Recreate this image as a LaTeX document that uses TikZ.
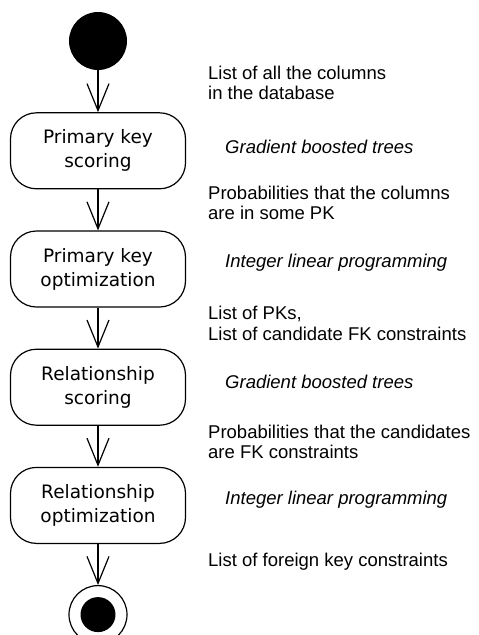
\documentclass[tikz,border=0pt]{standalone}
\usepackage{fontspec}
\setmainfont{Liberation Sans}
\newfontfamily\boxfont{DejaVu Sans}
\usetikzlibrary{arrows.meta, positioning}

\tikzset{
  flow/.style={-{Straight Barb[length=27pt, width=22pt, line width=1.2pt]}, line width=1.2pt},
  activity/.style={draw, line width=1.2pt, rounded corners=26pt,
    minimum width=175pt, minimum height=76pt, align=center,
    font=\boxfont\fontsize{18.5}{24}\selectfont},
  dataflow/.style={anchor=west, align=left, inner sep=0pt,
    font=\fontsize{18.5}{20.5}\selectfont},
  method/.style={anchor=west, inner sep=0pt,
    font=\itshape\fontsize{18.5}{20.5}\selectfont}
}

\begin{document}
\begin{tikzpicture}[x=1pt, y=1pt, node distance=41pt]
  \useasboundingbox (0,0) rectangle (479,-635);

  % Start and activity boxes
  \node[circle, fill=black, minimum size=58pt, inner sep=0pt]
    (start) at (98,-41) {};
  \node[activity, below=42pt of start] (pkscore) {Primary key\\scoring};
  \node[activity, below=of pkscore] (pkopt) {Primary key\\optimization};
  \node[activity, below=of pkopt] (relscore) {Relationship\\scoring};
  \node[activity, below=of relscore] (relopt) {Relationship\\optimization};

  % Final state
  \node[circle, draw, line width=1.2pt, minimum size=58pt, inner sep=0pt,
        below=of relopt] (stop) {};
  \node[circle, fill=black, minimum size=35pt, inner sep=0pt] (stopdot) at (stop) {};

  % Control flow
  \draw[flow] (start) -- (pkscore);
  \draw[flow] (pkscore) -- (pkopt);
  \draw[flow] (pkopt) -- (relscore);
  \draw[flow] (relscore) -- (relopt);
  \draw[flow] (relopt) -- (stop);

  % Data between the steps
  \node[dataflow] (d0) at (208,-83) {List of all the columns\\in the database};
  \node[dataflow] (d1) at (208,-203) {Probabilities that the columns\\are in some PK};
  \node[dataflow] (d2) at (208,-323.5) {List of PKs,\\List of candidate FK constraints};
  \node[dataflow] (d3) at (208,-442) {Probabilities that the candidates\\are FK constraints};
  \node[dataflow] (d4) at (208,-562) {List of foreign key constraints};

  % Methods
  \node[method] (m1) at (225,-147) {Gradient boosted trees};
  \node[method] (m2) at (225,-263) {Integer linear programming};
  \node[method] (m3) at (225,-382) {Gradient boosted trees};
  \node[method] (m4) at (225,-500) {Integer linear programming};
\end{tikzpicture}
\end{document}
